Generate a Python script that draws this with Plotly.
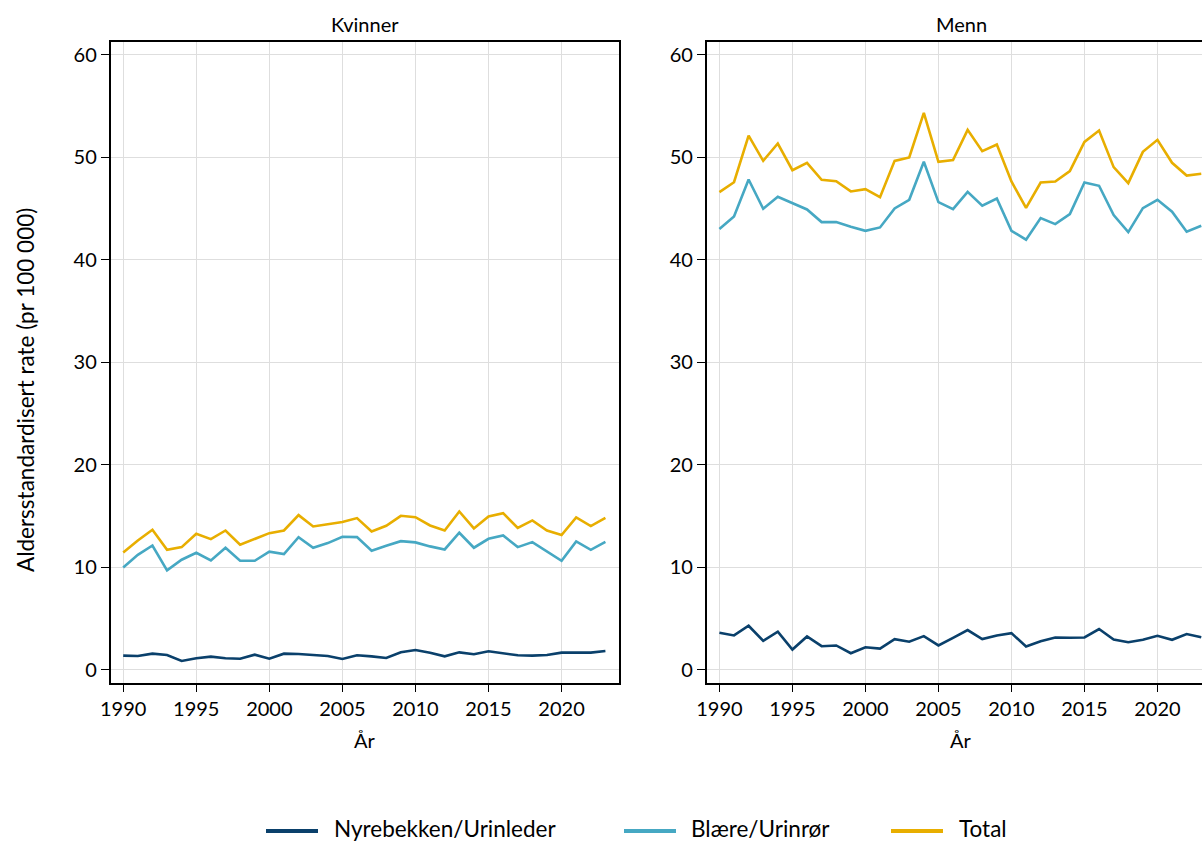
import plotly.graph_objects as go

years = list(range(1990, 2024))

kvinner_nyre = [1.40, 1.36, 1.59, 1.46, 0.88, 1.14, 1.30, 1.14, 1.10, 1.49,
                1.10, 1.59, 1.56, 1.43, 1.36, 1.07, 1.43, 1.33, 1.17, 1.72,
                1.95, 1.69, 1.33, 1.72, 1.53, 1.82, 1.59, 1.43, 1.40, 1.46,
                1.69, 1.66, 1.69, 1.85]
kvinner_blaere = [10.00, 11.23, 12.14, 9.71, 10.75, 11.43, 10.68, 11.92, 10.65, 10.65,
                  11.53, 11.30, 12.95, 11.92, 12.37, 12.99, 12.95, 11.62, 12.11, 12.56,
                  12.44, 12.05, 11.75, 13.38, 11.92, 12.79, 13.12, 11.98, 12.47, 11.59,
                  10.65, 12.53, 11.72, 12.50]
kvinner_total = [11.46, 12.63, 13.67, 11.72, 11.98, 13.28, 12.76, 13.60, 12.21, 12.76,
                 13.34, 13.60, 15.10, 13.99, 14.22, 14.42, 14.81, 13.51, 14.06, 15.03,
                 14.90, 14.09, 13.60, 15.45, 13.80, 14.97, 15.29, 13.86, 14.58, 13.60,
                 13.15, 14.87, 14.03, 14.84]

menn_nyre = [3.63, 3.37, 4.31, 2.84, 3.73, 1.99, 3.27, 2.32, 2.39, 1.63,
             2.22, 2.09, 3.01, 2.75, 3.30, 2.39, 3.14, 3.89, 3.01, 3.37,
             3.59, 2.29, 2.81, 3.17, 3.14, 3.17, 3.99, 2.97, 2.71, 2.94,
             3.33, 2.94, 3.50, 3.20]
menn_blaere = [42.99, 44.22, 47.82, 44.97, 46.14, 45.49, 44.90, 43.67, 43.67, 43.21,
               42.82, 43.15, 45.00, 45.84, 49.55, 45.62, 44.94, 46.62, 45.26, 45.97,
               42.82, 41.95, 44.06, 43.47, 44.45, 47.53, 47.21, 44.35, 42.69, 45.03,
               45.84, 44.68, 42.73, 43.31]
menn_total = [46.59, 47.56, 52.11, 49.64, 51.33, 48.73, 49.45, 47.79, 47.66, 46.66,
              46.88, 46.10, 49.64, 49.97, 54.32, 49.55, 49.71, 52.66, 50.58, 51.23,
              47.63, 45.06, 47.53, 47.63, 48.64, 51.49, 52.60, 49.03, 47.47, 50.52,
              51.69, 49.45, 48.21, 48.38]

series_names = ["Nyrebekken/Urinleder", "Blære/Urinrør", "Total"]
colors = ["#0a406b", "#46a8c3", "#e8ae00"]
panel_titles = ["Kvinner", "Menn"]
y_ticks = [0, 10, 20, 30, 40, 50, 60]
x_ticks = [1990, 1995, 2000, 2005, 2010, 2015, 2020]

W, H = 1202, 844
FONT = "Lato"

fig = go.Figure()

panels = [(kvinner_nyre, kvinner_blaere, kvinner_total), (menn_nyre, menn_blaere, menn_total)]
for p, data in enumerate(panels):
    xa = "x" if p == 0 else "x2"
    ya = "y" if p == 0 else "y2"
    for i, vals in enumerate(data):
        fig.add_trace(go.Scatter(
            x=years, y=vals, mode="lines", name=series_names[i],
            line=dict(color=colors[i], width=2.6),
            xaxis=xa, yaxis=ya, showlegend=False,
        ))

def px_x(v):
    return v / W

def px_y(v):
    return 1 - v / H

y_dom = [px_y(682.7), px_y(42.3)]
axis_common = dict(
    showline=True, linecolor="black", linewidth=1.5,
    showgrid=True, gridcolor="#dedede", gridwidth=1.4,
    zeroline=False, ticks="outside", ticklen=8, tickwidth=1.3, tickcolor="black",
    tickfont=dict(family=FONT, size=20, color="black"),
    automargin=False,
)

fig.update_layout(
    xaxis=dict(domain=[px_x(110.5), px_x(619)], range=[1989.13, 2023.93],
               tickvals=x_ticks, mirror=True, anchor="y", **axis_common),
    yaxis=dict(domain=y_dom, range=[-1.24, 61.2], tickvals=y_ticks, mirror=True,
               anchor="x", **axis_common),
    xaxis2=dict(domain=[px_x(706.7), 1.0], range=[1989.13, 2023.05],
                tickvals=x_ticks, mirror=True, anchor="y2", **axis_common),
    yaxis2=dict(domain=y_dom, range=[-1.24, 61.2], tickvals=y_ticks, mirror=False,
                anchor="x2", **axis_common),
)

annotations = [
    dict(text=panel_titles[0], x=px_x(365), y=px_y(24)),
    dict(text=panel_titles[1], x=px_x(961), y=px_y(24)),
    dict(text="År", x=px_x(365), y=px_y(740)),
    dict(text="År", x=px_x(961), y=px_y(740)),
]
for a in annotations:
    fig.add_annotation(xref="paper", yref="paper", showarrow=False,
                       xanchor="center", yanchor="middle",
                       font=dict(family=FONT, size=20, color="black"), **a)
fig.add_annotation(text="Aldersstandardisert rate (pr 100 000)", xref="paper", yref="paper",
                   x=px_x(25), y=px_y(390), textangle=-90, showarrow=False,
                   xanchor="center", yanchor="middle",
                   font=dict(family=FONT, size=22.5, color="black"))

# legend keys (drawn below the panels)
legend_line_x = [266, 624, 891]
legend_text_x = [333, 690, 958]
legend_y = 831
for i, name in enumerate(series_names):
    fig.add_shape(type="line", xref="paper", yref="paper",
                  x0=px_x(legend_line_x[i]), x1=px_x(legend_line_x[i] + 52),
                  y0=px_y(legend_y), y1=px_y(legend_y),
                  line=dict(color=colors[i], width=4))
    fig.add_annotation(text=name, xref="paper", yref="paper",
                       x=px_x(legend_text_x[i]), y=0.001,
                       xanchor="left", yanchor="bottom", showarrow=False,
                       borderpad=0,
                       font=dict(family=FONT, size=22.5, color="black"))

fig.update_layout(
    width=W, height=H,
    margin=dict(l=0, r=0, t=0, b=0),
    paper_bgcolor="white", plot_bgcolor="white",
    font=dict(family=FONT, color="black"),
    showlegend=False,
)

fig.write_html("out.html")
